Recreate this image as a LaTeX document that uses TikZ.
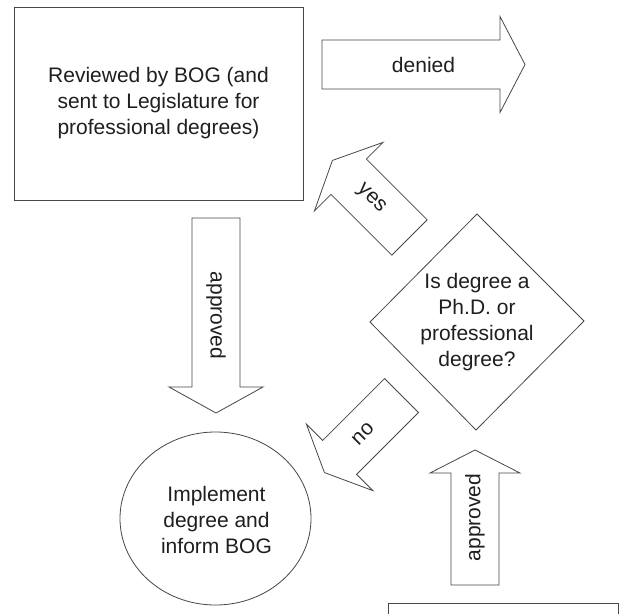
\documentclass[tikz,border=0pt]{standalone}
\usepackage{fontspec}
\setmainfont{Liberation Sans}
\usetikzlibrary{shapes.geometric}
\tikzset{
  shapeline/.style={draw=black!72, line width=0.8pt},
  lbl/.style={font=\fontsize{21}{26}\selectfont, text=black!88, inner sep=0pt, align=center},
}
% #1 name, #2 tail "x,y", #3 angle, #4 length, #5 half body, #6 half head, #7 head length, #8 label, #9 label rotation
\newcommand{\blockarrow}[9]{%
  \begin{scope}[shift={(#2)}, rotate=#3]
    \draw[shapeline, fill=white] (0,-#5) -- (#4-#7,-#5) -- (#4-#7,-#6) -- (#4,0)
      -- (#4-#7,#6) -- (#4-#7,#5) -- (0,#5) -- cycle;
    \node[lbl, rotate=#9] (#1) at (#4/2,0) {#8};
  \end{scope}}
\begin{document}
\begin{tikzpicture}[x=1pt, y=-1pt]
\useasboundingbox (0,0) rectangle (621,613);
\fill[white] (0,0) rectangle (621,613);
\clip (0,0) rectangle (621,613);

% top box
\node[shapeline, lbl, minimum width=289pt, minimum height=193pt] (bog) at (158.5,103.5)
  {Reviewed by BOG (and\\sent to Legislature for\\professional degrees)};

% decision diamond
\node[lbl] (q) at (477,322.5) {Is degree a\\Ph.D. or\\professional\\degree?};
\draw[shapeline] (477,214) -- (584,321) -- (476,430) -- (370,322) -- cycle;

% implement ellipse
\node[shapeline, ellipse, minimum width=191pt, minimum height=173pt, inner sep=0pt] (impl) at (215.5,518.5) {};
\node[lbl] (impltext) at (216.5,520) {Implement\\degree and\\inform BOG};

% bottom box (cut off)
\node[shapeline, minimum width=230pt, minimum height=60pt, anchor=north west] (prev) at (388,603) {};

% block arrows
\blockarrow{denied}{322,64.5}{0}{203}{24.5}{48}{25}{denied}{0}
\blockarrow{appr1}{216,218}{-90}{195}{24}{47}{26}{approved}{-90}
\blockarrow{appr2}{475,585}{90}{135}{24}{45}{23}{approved}{90}
\blockarrow{yes}{409.5,237.5}{135}{109}{25}{48.5}{23}{yes}{-45}
\blockarrow{no}{401.5,395.5}{-135}{109}{24}{47}{21.5}{no}{45}
\end{tikzpicture}
\end{document}
